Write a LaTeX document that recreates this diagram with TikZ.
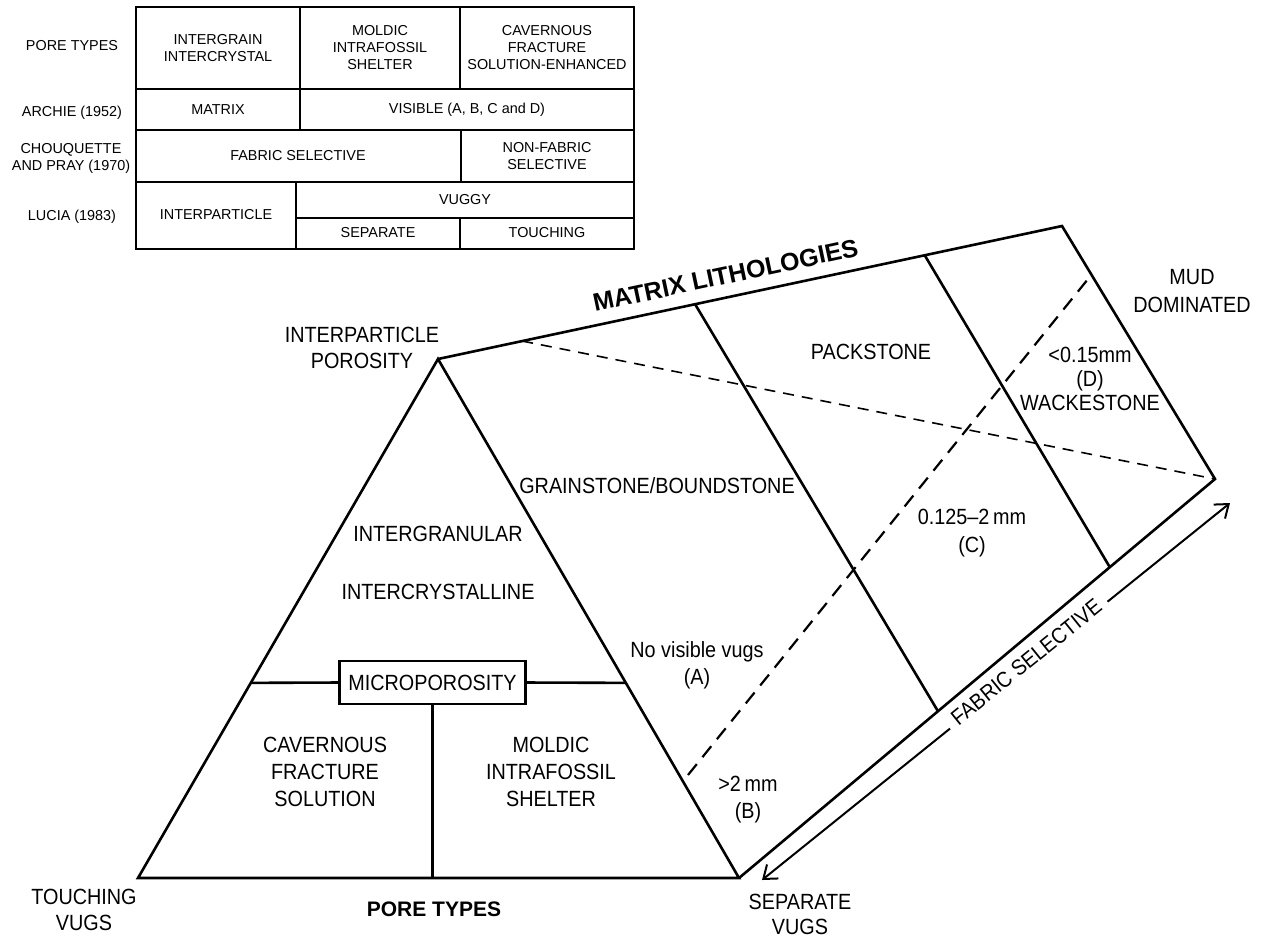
\documentclass[tikz,border=0pt]{standalone}
\usepackage{fontspec}
\setmainfont{Liberation Sans}
\newfontfamily\narrowsf{Liberation Sans}[FakeStretch=0.9]
\usetikzlibrary{calc,arrows.meta}

\begin{document}
\begin{tikzpicture}[x=0.5pt, y=-0.5pt,
    main/.style = {align=center, font=\narrowsf\fontsize{11}{13.5}\selectfont},
    cell/.style = {align=center, font=\fontsize{7.2}{8.5}\selectfont},
    edgeline/.style = {line width=1.3pt},
    grid/.style = {line width=0.9pt},
    hidden/.style = {line width=0.8pt, dash pattern=on 5.5pt off 4pt}]
    \useasboundingbox (0,0) rectangle (1267,939);

    % classification table
    \draw[grid] (136,7) rectangle (634,249);
    \draw[grid] (136,89) -- (634,89) (136,130) -- (634,130) (136,182) -- (634,182) (296,218) -- (634,218);
    \draw[grid] (300,7) -- (300,130) (460,7) -- (460,89) (461,130) -- (461,182) (296,182) -- (296,249) (460,218) -- (460,249);

    \node[cell] (r1) at (72,46) {PORE TYPES};
    \node[cell] (r2) at (72,113) {ARCHIE (1952)};
    \node[cell] (r3) at (71,158) {CHOUQUETTE\\AND PRAY (1970)};
    \node[cell] (r4) at (72,217) {LUCIA (1983)};

    \node[cell] (11) at (218,48) {INTERGRAIN\\INTERCRYSTAL};
    \node[cell] (12) at (380,48) {MOLDIC\\INTRAFOSSIL\\SHELTER};
    \node[cell] (13) at (547,48) {CAVERNOUS\\FRACTURE\\SOLUTION-ENHANCED};
    \node[cell] (21) at (218,110) {MATRIX};
    \node[cell] (22) at (467,110) {VISIBLE (A, B, C and D)};
    \node[cell] (31) at (298,156) {FABRIC SELECTIVE};
    \node[cell] (32) at (547,156) {NON-FABRIC\\SELECTIVE};
    \node[cell] (41) at (216,215) {INTERPARTICLE};
    \node[cell] (42) at (465,200) {VUGGY};
    \node[cell] (43) at (378,233) {SEPARATE};
    \node[cell] (44) at (547,233) {TOUCHING};

    % triangle and prism
    \coordinate (ip) at (438,359);
    \coordinate (tv) at (138,878);
    \coordinate (sv) at (739,878);
    \coordinate (tr) at (1062,226);
    \coordinate (md) at (1215,479);

    \draw[edgeline, line join=miter] (tv) -- (ip) -- (sv) -- cycle;
    \draw[edgeline] (ip) -- (tr) -- (md) -- (sv);
    \draw[edgeline] ($(ip)!0.412!(tr)$) -- ($(sv)!0.418!(md)$);
    \draw[edgeline] ($(ip)!0.780!(tr)$) -- ($(sv)!0.779!(md)$);

    \draw[hidden] ($(ip)!0.135!(tr)$) -- (md);
    \coordinate (d1) at (688,775);
    \coordinate (d2) at (1088,279);
    \draw[line width=1.1pt, dash pattern=on 7pt off 4.5pt] (d1) -- (d2);

    \node[main, draw, line width=1.2pt, minimum height=21.5pt, inner xsep=4.5pt] (mp) at (432.5,682.5) {MICROPOROSITY};
    \draw[edgeline] ($(tv)!0.376!(ip)$) -- (mp.west) (mp.east) -- ($(sv)!0.376!(ip)$);
    \draw[edgeline] (mp.south) -- (mp.south |- tv);

    \path (ip) -- (tr) node[pos=0.468, sloped, above=3pt, font=\bfseries\fontsize{12.5}{14}\selectfont] (ml) {MATRIX LITHOLOGIES};

    % fabric selective arrow
    \coordinate (fs1) at (762,880);
    \coordinate (fs2) at (1230,503);
    \draw[line width=1pt, {Straight Barb[length=6pt,width=9pt]}-{Straight Barb[length=6pt,width=9pt]}] (fs1) -- (fs2)
        node[main, pos=0.57, sloped, fill=white, inner xsep=4pt, yshift=2pt] (fsel) {FABRIC SELECTIVE};

    % labels
    \node[main, font=\narrowsf\fontsize{11}{13}\selectfont] (ipor) at (362,348) {INTERPARTICLE\\POROSITY};
    \node[main, font=\narrowsf\fontsize{11}{14}\selectfont] (mud) at (1192,291) {MUD\\DOMINATED};
    \node[main] (pack) at (871,352) {PACKSTONE};
    \node[main, font=\narrowsf\fontsize{11}{12}\selectfont] (wack) at (1090,379) {<0.15mm\\(D)\\WACKESTONE};
    \node[main] (grain) at (657,486) {GRAINSTONE/BOUNDSTONE};
    \node[main, font=\narrowsf\fontsize{11}{14}\selectfont] (cc) at (972,533) {0.125–2\,mm\\(C)};
    \node[main] (igr) at (438,534) {INTERGRANULAR};
    \node[main] (icr) at (438,592) {INTERCRYSTALLINE};
    \node[main] (nv) at (697,665) {No visible vugs\\(A)};
    \node[main] (cav) at (325,772) {CAVERNOUS\\FRACTURE\\SOLUTION};
    \node[main] (mold) at (551,772) {MOLDIC\\INTRAFOSSIL\\SHELTER};
    \node[main] (bb) at (748,800) {>2\,mm\\(B)};
    \node[main, font=\narrowsf\fontsize{11}{13}\selectfont] (tvug) at (84,910) {TOUCHING\\VUGS};
    \node[main, font=\narrowsf\fontsize{11}{12.5}\selectfont, inner sep=1pt] (svug) at (800,914) {SEPARATE\\VUGS};
    \node[font=\bfseries\fontsize{10.5}{12}\selectfont] (ptyp) at (434,909) {PORE TYPES};

\end{tikzpicture}
\end{document}
